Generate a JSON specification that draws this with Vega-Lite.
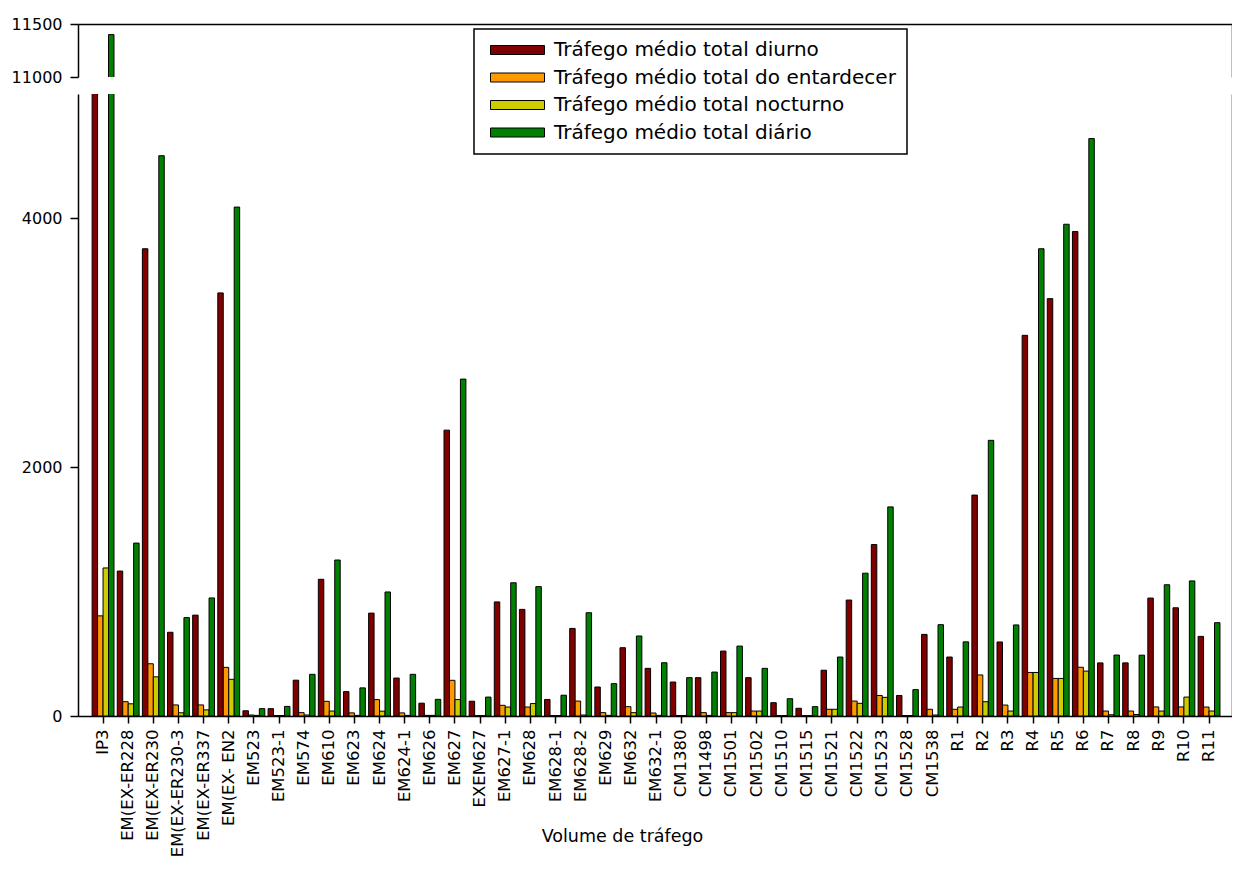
{
 "$schema": "https://vega.github.io/schema/vega-lite/v6.json",
 "padding": {"left": 11, "top": 16, "right": 0, "bottom": 0},
 "background": "white",
 "spacing": 9,
 "data": {"values": [
  {"estacao":"IP3","serie":"Tráfego médio total diurno","valor":9400},
  {"estacao":"IP3","serie":"Tráfego médio total do entardecer","valor":805},
  {"estacao":"IP3","serie":"Tráfego médio total nocturno","valor":1190},
  {"estacao":"IP3","serie":"Tráfego médio total diário","valor":11400},
  {"estacao":"EM(EX-ER228","serie":"Tráfego médio total diurno","valor":1165},
  {"estacao":"EM(EX-ER228","serie":"Tráfego médio total do entardecer","valor":115},
  {"estacao":"EM(EX-ER228","serie":"Tráfego médio total nocturno","valor":98},
  {"estacao":"EM(EX-ER228","serie":"Tráfego médio total diário","valor":1390},
  {"estacao":"EM(EX-ER230","serie":"Tráfego médio total diurno","valor":3756},
  {"estacao":"EM(EX-ER230","serie":"Tráfego médio total do entardecer","valor":420},
  {"estacao":"EM(EX-ER230","serie":"Tráfego médio total nocturno","valor":315},
  {"estacao":"EM(EX-ER230","serie":"Tráfego médio total diário","valor":4504},
  {"estacao":"EM(EX-ER230-3","serie":"Tráfego médio total diurno","valor":673},
  {"estacao":"EM(EX-ER230-3","serie":"Tráfego médio total do entardecer","valor":89},
  {"estacao":"EM(EX-ER230-3","serie":"Tráfego médio total nocturno","valor":26},
  {"estacao":"EM(EX-ER230-3","serie":"Tráfego médio total diário","valor":791},
  {"estacao":"EM(EX-ER337","serie":"Tráfego médio total diurno","valor":811},
  {"estacao":"EM(EX-ER337","serie":"Tráfego médio total do entardecer","valor":89},
  {"estacao":"EM(EX-ER337","serie":"Tráfego médio total nocturno","valor":49},
  {"estacao":"EM(EX-ER337","serie":"Tráfego médio total diário","valor":949},
  {"estacao":"EM(EX- EN2","serie":"Tráfego médio total diurno","valor":3401},
  {"estacao":"EM(EX- EN2","serie":"Tráfego médio total do entardecer","valor":391},
  {"estacao":"EM(EX- EN2","serie":"Tráfego médio total nocturno","valor":295},
  {"estacao":"EM(EX- EN2","serie":"Tráfego médio total diário","valor":4091},
  {"estacao":"EM523","serie":"Tráfego médio total diurno","valor":42},
  {"estacao":"EM523","serie":"Tráfego médio total do entardecer","valor":8},
  {"estacao":"EM523","serie":"Tráfego médio total nocturno","valor":5},
  {"estacao":"EM523","serie":"Tráfego médio total diário","valor":59},
  {"estacao":"EM523-1","serie":"Tráfego médio total diurno","valor":59},
  {"estacao":"EM523-1","serie":"Tráfego médio total do entardecer","valor":4},
  {"estacao":"EM523-1","serie":"Tráfego médio total nocturno","valor":4},
  {"estacao":"EM523-1","serie":"Tráfego médio total diário","valor":77},
  {"estacao":"EM574","serie":"Tráfego médio total diurno","valor":288},
  {"estacao":"EM574","serie":"Tráfego médio total do entardecer","valor":27},
  {"estacao":"EM574","serie":"Tráfego médio total nocturno","valor":8},
  {"estacao":"EM574","serie":"Tráfego médio total diário","valor":335},
  {"estacao":"EM610","serie":"Tráfego médio total diurno","valor":1099},
  {"estacao":"EM610","serie":"Tráfego médio total do entardecer","valor":118},
  {"estacao":"EM610","serie":"Tráfego médio total nocturno","valor":40},
  {"estacao":"EM610","serie":"Tráfego médio total diário","valor":1254},
  {"estacao":"EM623","serie":"Tráfego médio total diurno","valor":196},
  {"estacao":"EM623","serie":"Tráfego médio total do entardecer","valor":25},
  {"estacao":"EM623","serie":"Tráfego médio total nocturno","valor":5},
  {"estacao":"EM623","serie":"Tráfego médio total diário","valor":226},
  {"estacao":"EM624","serie":"Tráfego médio total diurno","valor":827},
  {"estacao":"EM624","serie":"Tráfego médio total do entardecer","valor":132},
  {"estacao":"EM624","serie":"Tráfego médio total nocturno","valor":39},
  {"estacao":"EM624","serie":"Tráfego médio total diário","valor":997},
  {"estacao":"EM624-1","serie":"Tráfego médio total diurno","valor":305},
  {"estacao":"EM624-1","serie":"Tráfego médio total do entardecer","valor":25},
  {"estacao":"EM624-1","serie":"Tráfego médio total nocturno","valor":5},
  {"estacao":"EM624-1","serie":"Tráfego médio total diário","valor":335},
  {"estacao":"EM626","serie":"Tráfego médio total diurno","valor":103},
  {"estacao":"EM626","serie":"Tráfego médio total do entardecer","valor":5},
  {"estacao":"EM626","serie":"Tráfego médio total nocturno","valor":5},
  {"estacao":"EM626","serie":"Tráfego médio total diário","valor":134},
  {"estacao":"EM627","serie":"Tráfego médio total diurno","valor":2298},
  {"estacao":"EM627","serie":"Tráfego médio total do entardecer","valor":287},
  {"estacao":"EM627","serie":"Tráfego médio total nocturno","valor":132},
  {"estacao":"EM627","serie":"Tráfego médio total diário","valor":2708},
  {"estacao":"EXEM627","serie":"Tráfego médio total diurno","valor":119},
  {"estacao":"EXEM627","serie":"Tráfego médio total do entardecer","valor":3},
  {"estacao":"EXEM627","serie":"Tráfego médio total nocturno","valor":3},
  {"estacao":"EXEM627","serie":"Tráfego médio total diário","valor":152},
  {"estacao":"EM627-1","serie":"Tráfego médio total diurno","valor":917},
  {"estacao":"EM627-1","serie":"Tráfego médio total do entardecer","valor":86},
  {"estacao":"EM627-1","serie":"Tráfego médio total nocturno","valor":72},
  {"estacao":"EM627-1","serie":"Tráfego médio total diário","valor":1071},
  {"estacao":"EM628","serie":"Tráfego médio total diurno","valor":857},
  {"estacao":"EM628","serie":"Tráfego médio total do entardecer","valor":72},
  {"estacao":"EM628","serie":"Tráfego médio total nocturno","valor":100},
  {"estacao":"EM628","serie":"Tráfego médio total diário","valor":1040},
  {"estacao":"EM628-1","serie":"Tráfego médio total diurno","valor":133},
  {"estacao":"EM628-1","serie":"Tráfego médio total do entardecer","valor":4},
  {"estacao":"EM628-1","serie":"Tráfego médio total nocturno","valor":4},
  {"estacao":"EM628-1","serie":"Tráfego médio total diário","valor":167},
  {"estacao":"EM628-2","serie":"Tráfego médio total diurno","valor":704},
  {"estacao":"EM628-2","serie":"Tráfego médio total do entardecer","valor":120},
  {"estacao":"EM628-2","serie":"Tráfego médio total nocturno","valor":8},
  {"estacao":"EM628-2","serie":"Tráfego médio total diário","valor":830},
  {"estacao":"EM629","serie":"Tráfego médio total diurno","valor":233},
  {"estacao":"EM629","serie":"Tráfego médio total do entardecer","valor":27},
  {"estacao":"EM629","serie":"Tráfego médio total nocturno","valor":5},
  {"estacao":"EM629","serie":"Tráfego médio total diário","valor":260},
  {"estacao":"EM632","serie":"Tráfego médio total diurno","valor":549},
  {"estacao":"EM632","serie":"Tráfego médio total do entardecer","valor":75},
  {"estacao":"EM632","serie":"Tráfego médio total nocturno","valor":27},
  {"estacao":"EM632","serie":"Tráfego médio total diário","valor":643},
  {"estacao":"EM632-1","serie":"Tráfego médio total diurno","valor":383},
  {"estacao":"EM632-1","serie":"Tráfego médio total do entardecer","valor":24},
  {"estacao":"EM632-1","serie":"Tráfego médio total nocturno","valor":5},
  {"estacao":"EM632-1","serie":"Tráfego médio total diário","valor":428},
  {"estacao":"CM1380","serie":"Tráfego médio total diurno","valor":273},
  {"estacao":"CM1380","serie":"Tráfego médio total do entardecer","valor":4},
  {"estacao":"CM1380","serie":"Tráfego médio total nocturno","valor":4},
  {"estacao":"CM1380","serie":"Tráfego médio total diário","valor":308},
  {"estacao":"CM1498","serie":"Tráfego médio total diurno","valor":308},
  {"estacao":"CM1498","serie":"Tráfego médio total do entardecer","valor":27},
  {"estacao":"CM1498","serie":"Tráfego médio total nocturno","valor":5},
  {"estacao":"CM1498","serie":"Tráfego médio total diário","valor":353},
  {"estacao":"CM1501","serie":"Tráfego médio total diurno","valor":522},
  {"estacao":"CM1501","serie":"Tráfego médio total do entardecer","valor":27},
  {"estacao":"CM1501","serie":"Tráfego médio total nocturno","valor":27},
  {"estacao":"CM1501","serie":"Tráfego médio total diário","valor":562},
  {"estacao":"CM1502","serie":"Tráfego médio total diurno","valor":308},
  {"estacao":"CM1502","serie":"Tráfego médio total do entardecer","valor":40},
  {"estacao":"CM1502","serie":"Tráfego médio total nocturno","valor":40},
  {"estacao":"CM1502","serie":"Tráfego médio total diário","valor":383},
  {"estacao":"CM1510","serie":"Tráfego médio total diurno","valor":107},
  {"estacao":"CM1510","serie":"Tráfego médio total do entardecer","valor":4},
  {"estacao":"CM1510","serie":"Tráfego médio total nocturno","valor":4},
  {"estacao":"CM1510","serie":"Tráfego médio total diário","valor":139},
  {"estacao":"CM1515","serie":"Tráfego médio total diurno","valor":62},
  {"estacao":"CM1515","serie":"Tráfego médio total do entardecer","valor":3},
  {"estacao":"CM1515","serie":"Tráfego médio total nocturno","valor":3},
  {"estacao":"CM1515","serie":"Tráfego médio total diário","valor":75},
  {"estacao":"CM1521","serie":"Tráfego médio total diurno","valor":368},
  {"estacao":"CM1521","serie":"Tráfego médio total do entardecer","valor":54},
  {"estacao":"CM1521","serie":"Tráfego médio total nocturno","valor":54},
  {"estacao":"CM1521","serie":"Tráfego médio total diário","valor":474},
  {"estacao":"CM1522","serie":"Tráfego médio total diurno","valor":932},
  {"estacao":"CM1522","serie":"Tráfego médio total do entardecer","valor":120},
  {"estacao":"CM1522","serie":"Tráfego médio total nocturno","valor":102},
  {"estacao":"CM1522","serie":"Tráfego médio total diário","valor":1148},
  {"estacao":"CM1523","serie":"Tráfego médio total diurno","valor":1378},
  {"estacao":"CM1523","serie":"Tráfego médio total do entardecer","valor":165},
  {"estacao":"CM1523","serie":"Tráfego médio total nocturno","valor":150},
  {"estacao":"CM1523","serie":"Tráfego médio total diário","valor":1681},
  {"estacao":"CM1528","serie":"Tráfego médio total diurno","valor":165},
  {"estacao":"CM1528","serie":"Tráfego médio total do entardecer","valor":4},
  {"estacao":"CM1528","serie":"Tráfego médio total nocturno","valor":4},
  {"estacao":"CM1528","serie":"Tráfego médio total diário","valor":212},
  {"estacao":"CM1538","serie":"Tráfego médio total diurno","valor":656},
  {"estacao":"CM1538","serie":"Tráfego médio total do entardecer","valor":54},
  {"estacao":"CM1538","serie":"Tráfego médio total nocturno","valor":8},
  {"estacao":"CM1538","serie":"Tráfego médio total diário","valor":734},
  {"estacao":"R1","serie":"Tráfego médio total diurno","valor":474},
  {"estacao":"R1","serie":"Tráfego médio total do entardecer","valor":54},
  {"estacao":"R1","serie":"Tráfego médio total nocturno","valor":72},
  {"estacao":"R1","serie":"Tráfego médio total diário","valor":596},
  {"estacao":"R2","serie":"Tráfego médio total diurno","valor":1776},
  {"estacao":"R2","serie":"Tráfego médio total do entardecer","valor":330},
  {"estacao":"R2","serie":"Tráfego médio total nocturno","valor":115},
  {"estacao":"R2","serie":"Tráfego médio total diário","valor":2216},
  {"estacao":"R3","serie":"Tráfego médio total diurno","valor":595},
  {"estacao":"R3","serie":"Tráfego médio total do entardecer","valor":88},
  {"estacao":"R3","serie":"Tráfego médio total nocturno","valor":40},
  {"estacao":"R3","serie":"Tráfego médio total diário","valor":732},
  {"estacao":"R4","serie":"Tráfego médio total diurno","valor":3060},
  {"estacao":"R4","serie":"Tráfego médio total do entardecer","valor":350},
  {"estacao":"R4","serie":"Tráfego médio total nocturno","valor":350},
  {"estacao":"R4","serie":"Tráfego médio total diário","valor":3756},
  {"estacao":"R5","serie":"Tráfego médio total diurno","valor":3355},
  {"estacao":"R5","serie":"Tráfego médio total do entardecer","valor":302},
  {"estacao":"R5","serie":"Tráfego médio total nocturno","valor":302},
  {"estacao":"R5","serie":"Tráfego médio total diário","valor":3953},
  {"estacao":"R6","serie":"Tráfego médio total diurno","valor":3894},
  {"estacao":"R6","serie":"Tráfego médio total do entardecer","valor":392},
  {"estacao":"R6","serie":"Tráfego médio total nocturno","valor":361},
  {"estacao":"R6","serie":"Tráfego médio total diário","valor":4642},
  {"estacao":"R7","serie":"Tráfego médio total diurno","valor":427},
  {"estacao":"R7","serie":"Tráfego médio total do entardecer","valor":40},
  {"estacao":"R7","serie":"Tráfego médio total nocturno","valor":10},
  {"estacao":"R7","serie":"Tráfego médio total diário","valor":490},
  {"estacao":"R8","serie":"Tráfego médio total diurno","valor":427},
  {"estacao":"R8","serie":"Tráfego médio total do entardecer","valor":40},
  {"estacao":"R8","serie":"Tráfego médio total nocturno","valor":12},
  {"estacao":"R8","serie":"Tráfego médio total diário","valor":489},
  {"estacao":"R9","serie":"Tráfego médio total diurno","valor":948},
  {"estacao":"R9","serie":"Tráfego médio total do entardecer","valor":73},
  {"estacao":"R9","serie":"Tráfego médio total nocturno","valor":40},
  {"estacao":"R9","serie":"Tráfego médio total diário","valor":1055},
  {"estacao":"R10","serie":"Tráfego médio total diurno","valor":870},
  {"estacao":"R10","serie":"Tráfego médio total do entardecer","valor":73},
  {"estacao":"R10","serie":"Tráfego médio total nocturno","valor":152},
  {"estacao":"R10","serie":"Tráfego médio total diário","valor":1086},
  {"estacao":"R11","serie":"Tráfego médio total diurno","valor":640},
  {"estacao":"R11","serie":"Tráfego médio total do entardecer","valor":72},
  {"estacao":"R11","serie":"Tráfego médio total nocturno","valor":40},
  {"estacao":"R11","serie":"Tráfego médio total diário","valor":750}
 ]},
 "vconcat": [
  {
   "width": 1154,
   "height": 53,
   "layer": [
    {
     "mark": {"type": "bar", "clip": true, "stroke": "black", "strokeWidth": 1},
     "encoding": {
      "x": {"field": "estacao", "type": "nominal", "sort": null, "scale": {"paddingInner": 0.13, "paddingOuter": 0.52, "align": 0.54}, "axis": null},
      "xOffset": {"field": "serie", "type": "nominal", "sort": ["Tráfego médio total diurno","Tráfego médio total do entardecer","Tráfego médio total nocturno","Tráfego médio total diário"], "scale": {"paddingInner": 0, "paddingOuter": 0}},
      "y": {"field": "valor", "type": "quantitative", "scale": {"domain": [11000, 11500], "nice": false, "zero": false}, "axis": {"values": [11000, 11500], "format": "d", "title": null, "grid": false, "tickSize": 8, "labelPadding": 8}},
      "color": {"field": "serie", "type": "nominal", "sort": ["Tráfego médio total diurno","Tráfego médio total do entardecer","Tráfego médio total nocturno","Tráfego médio total diário"], "scale": {"domain": ["Tráfego médio total diurno","Tráfego médio total do entardecer","Tráfego médio total nocturno","Tráfego médio total diário"], "range": ["#800000","#FF9900","#CCCC00","#008000"]},
       "legend": {"orient": "none", "legendX": 396, "legendY": 5, "title": null}}
     }
    },
    {
     "mark": {"type": "bar", "clip": true, "opacity": 0},
     "encoding": {
      "x": {"field": "estacao", "type": "nominal", "sort": null, "axis": {"orient": "top", "labels": false, "ticks": false, "title": null, "grid": false}},
      "y": {"field": "valor", "type": "quantitative", "axis": {"orient": "right", "labels": false, "ticks": false, "title": null, "grid": false}}
     }
    }
   ],
   "resolve": {"axis": {"x": "independent", "y": "independent"}}
  },
  {
   "width": 1154,
   "height": 622,
   "layer": [
    {
     "mark": {"type": "bar", "clip": true, "stroke": "black", "strokeWidth": 1},
     "encoding": {
      "x": {"field": "estacao", "type": "nominal", "sort": null, "scale": {"paddingInner": 0.13, "paddingOuter": 0.52, "align": 0.54},
       "axis": {"title": "Volume de tráfego", "labelAngle": -90, "tickSize": 7, "labelPadding": 6, "labelFontSize": 16.5, "grid": false, "titleX": 544, "titleY": 120, "titleAlign": "center", "titleBaseline": "middle", "titleFontWeight": "normal", "titleFontSize": 17.5, "titleFont": "DejaVu Sans", "titleColor": "black"}},
      "xOffset": {"field": "serie", "type": "nominal", "sort": ["Tráfego médio total diurno","Tráfego médio total do entardecer","Tráfego médio total nocturno","Tráfego médio total diário"], "scale": {"paddingInner": 0, "paddingOuter": 0}},
      "y": {"field": "valor", "type": "quantitative", "scale": {"domain": [0, 5000], "nice": false}, "axis": {"values": [0, 2000, 4000], "format": "d", "title": null, "grid": false, "tickSize": 8, "labelPadding": 8}},
      "color": {"field": "serie", "type": "nominal", "sort": ["Tráfego médio total diurno","Tráfego médio total do entardecer","Tráfego médio total nocturno","Tráfego médio total diário"], "scale": {"domain": ["Tráfego médio total diurno","Tráfego médio total do entardecer","Tráfego médio total nocturno","Tráfego médio total diário"], "range": ["#800000","#FF9900","#CCCC00","#008000"]},
       "legend": {"orient": "none", "legendX": 396, "legendY": 5, "title": null}}
     }
    },
    {
     "mark": {"type": "bar", "clip": true, "opacity": 0},
     "encoding": {
      "x": {"field": "estacao", "type": "nominal", "sort": null, "axis": null},
      "y": {"field": "valor", "type": "quantitative", "axis": {"orient": "right", "labels": false, "ticks": false, "title": null, "grid": false}}
     }
    }
   ],
   "resolve": {"axis": {"x": "independent", "y": "independent"}}
  }
 ],
 "config": {
  "view": {"stroke": null},
  "font": "DejaVu Sans",
  "axis": {"domainColor": "black", "domainWidth": 1.5, "tickColor": "black", "tickWidth": 1.5, "labelColor": "black", "labelFont": "DejaVu Sans", "labelFontSize": 16},
  "legend": {
   "strokeColor": "black", "strokeWidth": 1.5, "fillColor": "white", "padding": 11, "cornerRadius": 0,
   "symbolType": "M-1,-1H11V1H-1Z", "symbolSize": 81, "symbolStrokeColor": "black", "symbolStrokeWidth": 1, "symbolOpacity": 1,
   "labelFont": "DejaVu Sans", "labelFontSize": 20, "labelColor": "black", "labelOffset": 49, "rowPadding": 7.5, "labelLimit": 500
  }
 }
}
